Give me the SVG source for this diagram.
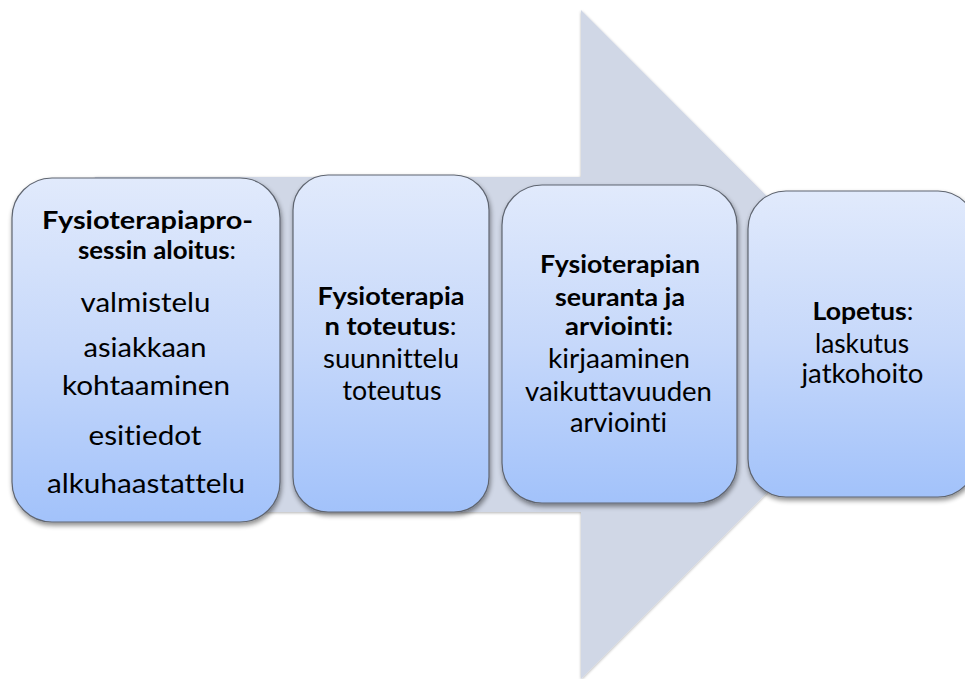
<svg xmlns="http://www.w3.org/2000/svg" width="965" height="679" viewBox="0 0 965 679">
<defs>
<linearGradient id="g" x1="0" y1="0" x2="0" y2="1">
<stop offset="0" stop-color="#E1EAFC"/>
<stop offset="0.5" stop-color="#C6D8FA"/>
<stop offset="1" stop-color="#A2C2FA"/>
</linearGradient>
<filter id="sh" x="-10%" y="-10%" width="125%" height="125%">
<feGaussianBlur in="SourceAlpha" stdDeviation="2.5"/>
<feOffset dx="1" dy="3" result="b"/>
<feComponentTransfer><feFuncA type="linear" slope="0.45"/></feComponentTransfer>
<feMerge><feMergeNode/><feMergeNode in="SourceGraphic"/></feMerge>
</filter>
<filter id="ash" x="-5%" y="-5%" width="110%" height="110%">
<feGaussianBlur in="SourceAlpha" stdDeviation="1.5"/>
<feOffset dx="0" dy="1"/>
<feComponentTransfer><feFuncA type="linear" slope="0.3"/></feComponentTransfer>
<feMerge><feMergeNode/><feMergeNode in="SourceGraphic"/></feMerge>
</filter>
</defs>
<style>
.box{fill:url(#g);stroke:#5F6570;stroke-width:1.2;filter:url(#sh)}
text{font-family:Lato,"Liberation Sans",sans-serif;fill:#000;text-anchor:middle;font-variant-ligatures:none;font-size:26px}
.b{font-weight:bold}
.h{font-size:25px}
</style>
<g id="arrow">
<path d="M95,177 L581,177 L581,10 L915,344.5 L581,679 L581,512 L95,512 Z" fill="#D0D7E6" filter="url(#ash)"/>
</g>
<g id="connectors"/>
<g id="node1">
<rect class="box" x="12" y="178" width="268" height="344" rx="40"/>
<text class="h b" x="147.5" y="229" textLength="211" lengthAdjust="spacingAndGlyphs">Fysioterapiapro-</text>
<text class="h" x="157" y="259" textLength="158" lengthAdjust="spacingAndGlyphs"><tspan class="b">sessin aloitus</tspan>:</text>
<text x="145.5" y="311.5" textLength="130" lengthAdjust="spacingAndGlyphs">valmistelu</text>
<text x="145" y="357" textLength="123" lengthAdjust="spacingAndGlyphs">asiakkaan</text>
<text x="146" y="395" textLength="168" lengthAdjust="spacingAndGlyphs">kohtaaminen</text>
<text x="145" y="445" textLength="113" lengthAdjust="spacingAndGlyphs">esitiedot</text>
<text x="146" y="493" textLength="198" lengthAdjust="spacingAndGlyphs">alkuhaastattelu</text>
</g>
<g id="node2">
<rect class="box" x="293" y="175" width="196" height="337" rx="35"/>
<text class="h b" x="391" y="305" textLength="147" lengthAdjust="spacingAndGlyphs">Fysioterapia</text>
<text class="h" x="390.5" y="335" textLength="132" lengthAdjust="spacingAndGlyphs"><tspan class="b">n toteutus</tspan>:</text>
<text x="391" y="368" textLength="136" lengthAdjust="spacingAndGlyphs">suunnittelu</text>
<text x="392" y="400" textLength="99" lengthAdjust="spacingAndGlyphs">toteutus</text>
</g>
<g id="node3">
<rect class="box" x="502" y="185" width="235" height="318" rx="40"/>
<text class="h b" x="620" y="273" textLength="160" lengthAdjust="spacingAndGlyphs">Fysioterapian</text>
<text class="h b" x="620" y="306" textLength="130" lengthAdjust="spacingAndGlyphs">seuranta ja</text>
<text class="h b" x="619" y="335" textLength="108" lengthAdjust="spacingAndGlyphs">arviointi:</text>
<text x="619" y="368" textLength="142" lengthAdjust="spacingAndGlyphs">kirjaaminen</text>
<text x="618.5" y="401" textLength="187" lengthAdjust="spacingAndGlyphs">vaikuttavuuden</text>
<text x="618.5" y="432" textLength="97" lengthAdjust="spacingAndGlyphs">arviointi</text>
</g>
<g id="node4">
<rect class="box" x="748" y="191" width="228" height="306" rx="38"/>
<text class="h" x="863" y="320" textLength="101" lengthAdjust="spacingAndGlyphs"><tspan class="b">Lopetus</tspan>:</text>
<text x="862" y="353" textLength="94" lengthAdjust="spacingAndGlyphs">laskutus</text>
<text x="862.5" y="383" textLength="122" lengthAdjust="spacingAndGlyphs">jatkohoito</text>
</g>
</svg>
